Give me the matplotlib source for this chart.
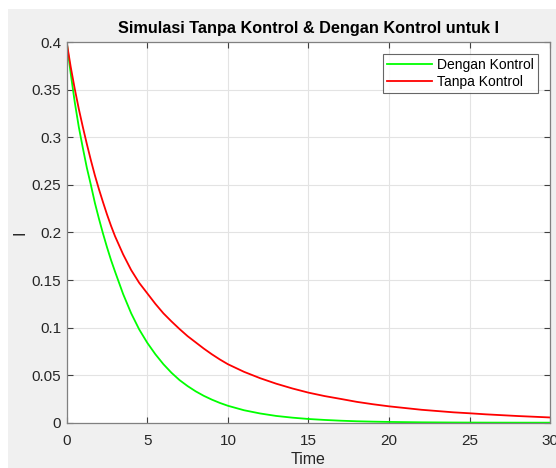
import matplotlib
matplotlib.use("Agg")
import matplotlib.pyplot as plt
from matplotlib.patches import Rectangle

plt.rcParams['font.family'] = ['Liberation Sans', 'DejaVu Sans']

time_red = [0, 0.25, 0.5, 0.75, 1, 1.25, 1.5, 1.75, 2, 2.25, 2.5, 2.75, 3, 3.5, 4, 4.5, 5, 5.5,
            6, 6.5, 7, 7.5, 8, 8.5, 9, 9.5, 10, 11, 12, 13, 14, 15,
            16, 17, 18, 19, 20, 22, 24, 25, 26, 28, 30]
tanpa_kontrol = [0.400, 0.374, 0.351, 0.330, 0.311, 0.293, 0.276, 0.260, 0.2455, 0.232, 0.219,
                 0.207, 0.196, 0.177, 0.1605, 0.147, 0.136, 0.125,
                 0.115, 0.1065, 0.0985, 0.091, 0.0845, 0.078, 0.072, 0.0665, 0.0615, 0.0535, 0.0468,
                 0.041, 0.036, 0.0316,
                 0.028, 0.025, 0.0219, 0.0194, 0.0172, 0.0136, 0.0109, 0.0099, 0.0088, 0.0070, 0.0055]

time_green = [0, 0.25, 0.5, 0.75, 1, 1.25, 1.5, 1.75, 2, 2.25, 2.5, 2.75, 3, 3.5, 4, 4.5, 5, 5.5,
              6, 6.5, 7, 7.5, 8, 8.5, 9, 9.5, 10, 11, 12, 13, 14, 15,
              16, 17, 18, 19, 20, 22, 24, 26, 28, 30]
dengan_kontrol = [0.400, 0.367, 0.337, 0.311, 0.289, 0.268, 0.250, 0.231, 0.2145, 0.199, 0.1845,
                  0.171, 0.1588, 0.1353, 0.115, 0.098, 0.084, 0.072,
                  0.0615, 0.0525, 0.0448, 0.0385, 0.0330, 0.0283, 0.0243, 0.0208, 0.0178, 0.0131,
                  0.0097, 0.0071, 0.0053, 0.0039,
                  0.0029, 0.0021, 0.0015, 0.0011, 0.0008, 0.0004, 0.0002, 0.0001, 0.00005, 0.00003]

xticks = [0, 5, 10, 15, 20, 25, 30]
yticks = [0, 0.05, 0.1, 0.15, 0.2, 0.25, 0.3, 0.35, 0.4]
yticklabels = ['0', '0.05', '0.1', '0.15', '0.2', '0.25', '0.3', '0.35', '0.4']

W, H = 556, 468
fig = plt.figure(figsize=(W / 100, H / 100), dpi=100, facecolor='white')
fig.patches.append(Rectangle((8 / W, 0), 1 - 8 / W, 1 - 9 / H, transform=fig.transFigure,
                             facecolor='#f0f0f0', edgecolor='none', zorder=-10))

ax = fig.add_axes([66.7 / W, 45.3 / H, (550.3 - 66.7) / W, (422.7 - 42.3) / H])
ax.set_facecolor('white')

ax.plot(time_green, dengan_kontrol, color='#00ff00', lw=1.3, label='Dengan Kontrol')
ax.plot(time_red, tanpa_kontrol, color='#ff0000', lw=1.3, label='Tanpa Kontrol')

ax.set_xlim(0, 30)
ax.set_ylim(0, 0.4)
ax.set_xticks(xticks)
ax.set_xticklabels([str(v) for v in xticks])
ax.set_yticks(yticks)
ax.set_yticklabels(yticklabels)

axis_col = '#808080'
for s in ax.spines.values():
    s.set_color(axis_col)
    s.set_linewidth(0.9)
ax.tick_params(direction='in', length=4, width=0.8, color='#404040', labelcolor='#262626',
               labelsize=11, top=True, right=True)
ax.tick_params(axis='x', pad=8)
ax.tick_params(axis='y', pad=4)
ax.grid(True, color='#e3e3e3', lw=0.8)
ax.set_axisbelow(True)

ax.set_title('Simulasi Tanpa Kontrol & Dengan Kontrol untuk I', fontsize=11.7, fontweight='bold',
             color='black', pad=7)
ax.set_xlabel('Time', fontsize=11.5, color='#262626', labelpad=3)
ax.set_ylabel('I', fontsize=11.5, color='#262626', labelpad=3)

leg = ax.legend(loc='upper right', fontsize=10, frameon=True, fancybox=False,
                edgecolor='#404040', borderpad=0.3, handlelength=3.2, handletextpad=0.4,
                labelspacing=0.2, borderaxespad=0.85)
leg.get_frame().set_linewidth(0.8)

fig.savefig('out.png', dpi=100, facecolor=fig.get_facecolor())
